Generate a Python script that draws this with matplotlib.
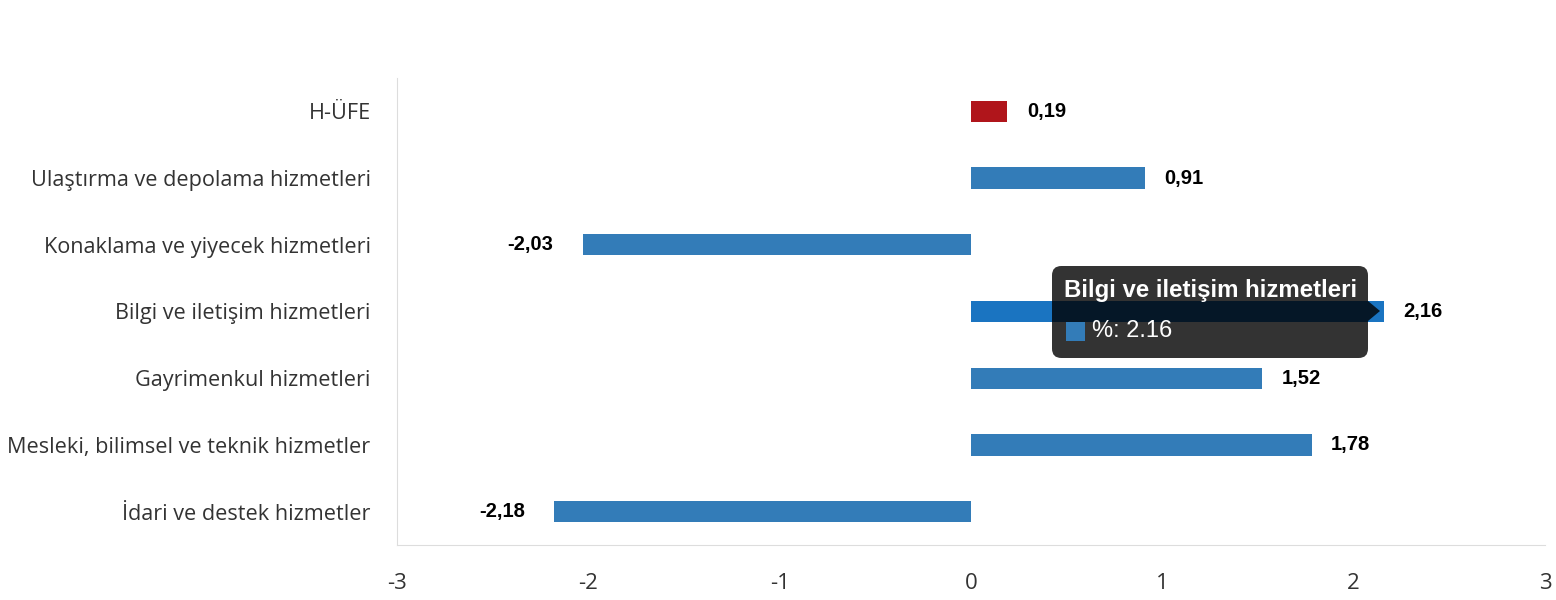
import matplotlib.pyplot as plt
from matplotlib.patches import FancyBboxPatch, Polygon, Rectangle

# data
categories = ["H-ÜFE",
              "Ulaştırma ve depolama hizmetleri",
              "Konaklama ve yiyecek hizmetleri",
              "Bilgi ve iletişim hizmetleri",
              "Gayrimenkul hizmetleri",
              "Mesleki, bilimsel ve teknik hizmetler",
              "İdari ve destek hizmetler"]
values = [0.19, 0.91, -2.03, 2.16, 1.52, 1.78, -2.18]
labels = ["0,19", "0,91", "-2,03", "2,16", "1,52", "1,78", "-2,18"]
xticks = [-3, -2, -1, 0, 1, 2, 3]

blue = "#337cb8"
colors = [blue] * len(values)
colors[0] = "#b0151b"
colors[3] = "#1a74c1"   # hovered bar

fig = plt.figure(figsize=(15.56, 6), dpi=100)
ax = fig.add_axes([397/1556, 1-545/600, (1545-397)/1556, (545-78)/600])

ypos = list(range(len(categories)))
ax.barh(ypos, values, height=0.32, color=colors)
ax.set_ylim(len(categories)-0.5, -0.5)
ax.set_xlim(-3, 3)
ax.set_xticks(xticks)
ax.set_xticklabels([str(t) for t in xticks])
ax.set_yticks(ypos)
ax.set_yticklabels(categories)
ax.tick_params(length=0, colors="#333333")
ax.tick_params(axis="y", pad=19)
ax.tick_params(axis="x", pad=20)
for lab in ax.get_yticklabels():
    lab.set_fontfamily("Open Sans")
    lab.set_fontsize(15.6)
for lab in ax.get_xticklabels():
    lab.set_fontfamily("Open Sans")
    lab.set_fontsize(16)
for s in ["top", "right"]:
    ax.spines[s].set_visible(False)
ax.spines["left"].set_color("#dddddd")
ax.spines["bottom"].set_color("#dddddd")

for i, (v, t) in enumerate(zip(values, labels)):
    if v >= 0:
        ax.annotate(t, (v, i), xytext=(14, 0), textcoords="offset points",
                    ha="left", va="center", fontsize=14.5, fontweight="bold",
                    family="Liberation Sans", color="black")
    else:
        ax.annotate(t, (v, i), xytext=(-21, 0), textcoords="offset points",
                    ha="right", va="center", fontsize=14.5, fontweight="bold",
                    family="Liberation Sans", color="black")

# tooltip
W, H = 1556, 600
def fx(px):
    return px / W
def fy(py):
    return 1 - py / H

box = FancyBboxPatch((fx(1052), fy(358)), fx(1368) - fx(1052), fy(266) - fy(358),
                     boxstyle="round,pad=0,rounding_size=0.006",
                     transform=fig.transFigure, facecolor="black", alpha=0.8,
                     edgecolor="none", mutation_aspect=W/H)
fig.patches.append(box)
arrow = Polygon([(fx(1368), fy(301)), (fx(1380), fy(311)), (fx(1368), fy(321))],
                closed=True, transform=fig.transFigure, facecolor="black",
                alpha=0.8, edgecolor="none")
fig.patches.append(arrow)
fig.text(fx(1064), fy(290), "Bilgi ve iletişim hizmetleri", color="white",
         fontsize=17.3, fontweight="bold", family="Liberation Sans",
         ha="left", va="center")
sq = Rectangle((fx(1066), fy(341)), fx(19), 19/H, transform=fig.transFigure,
               facecolor=blue, edgecolor="none")
fig.patches.append(sq)
fig.text(fx(1092), fy(331), "%: 2.16", color="white", fontsize=17,
         family="Liberation Sans", ha="left", va="center")

fig.savefig("out.png", dpi=100)
